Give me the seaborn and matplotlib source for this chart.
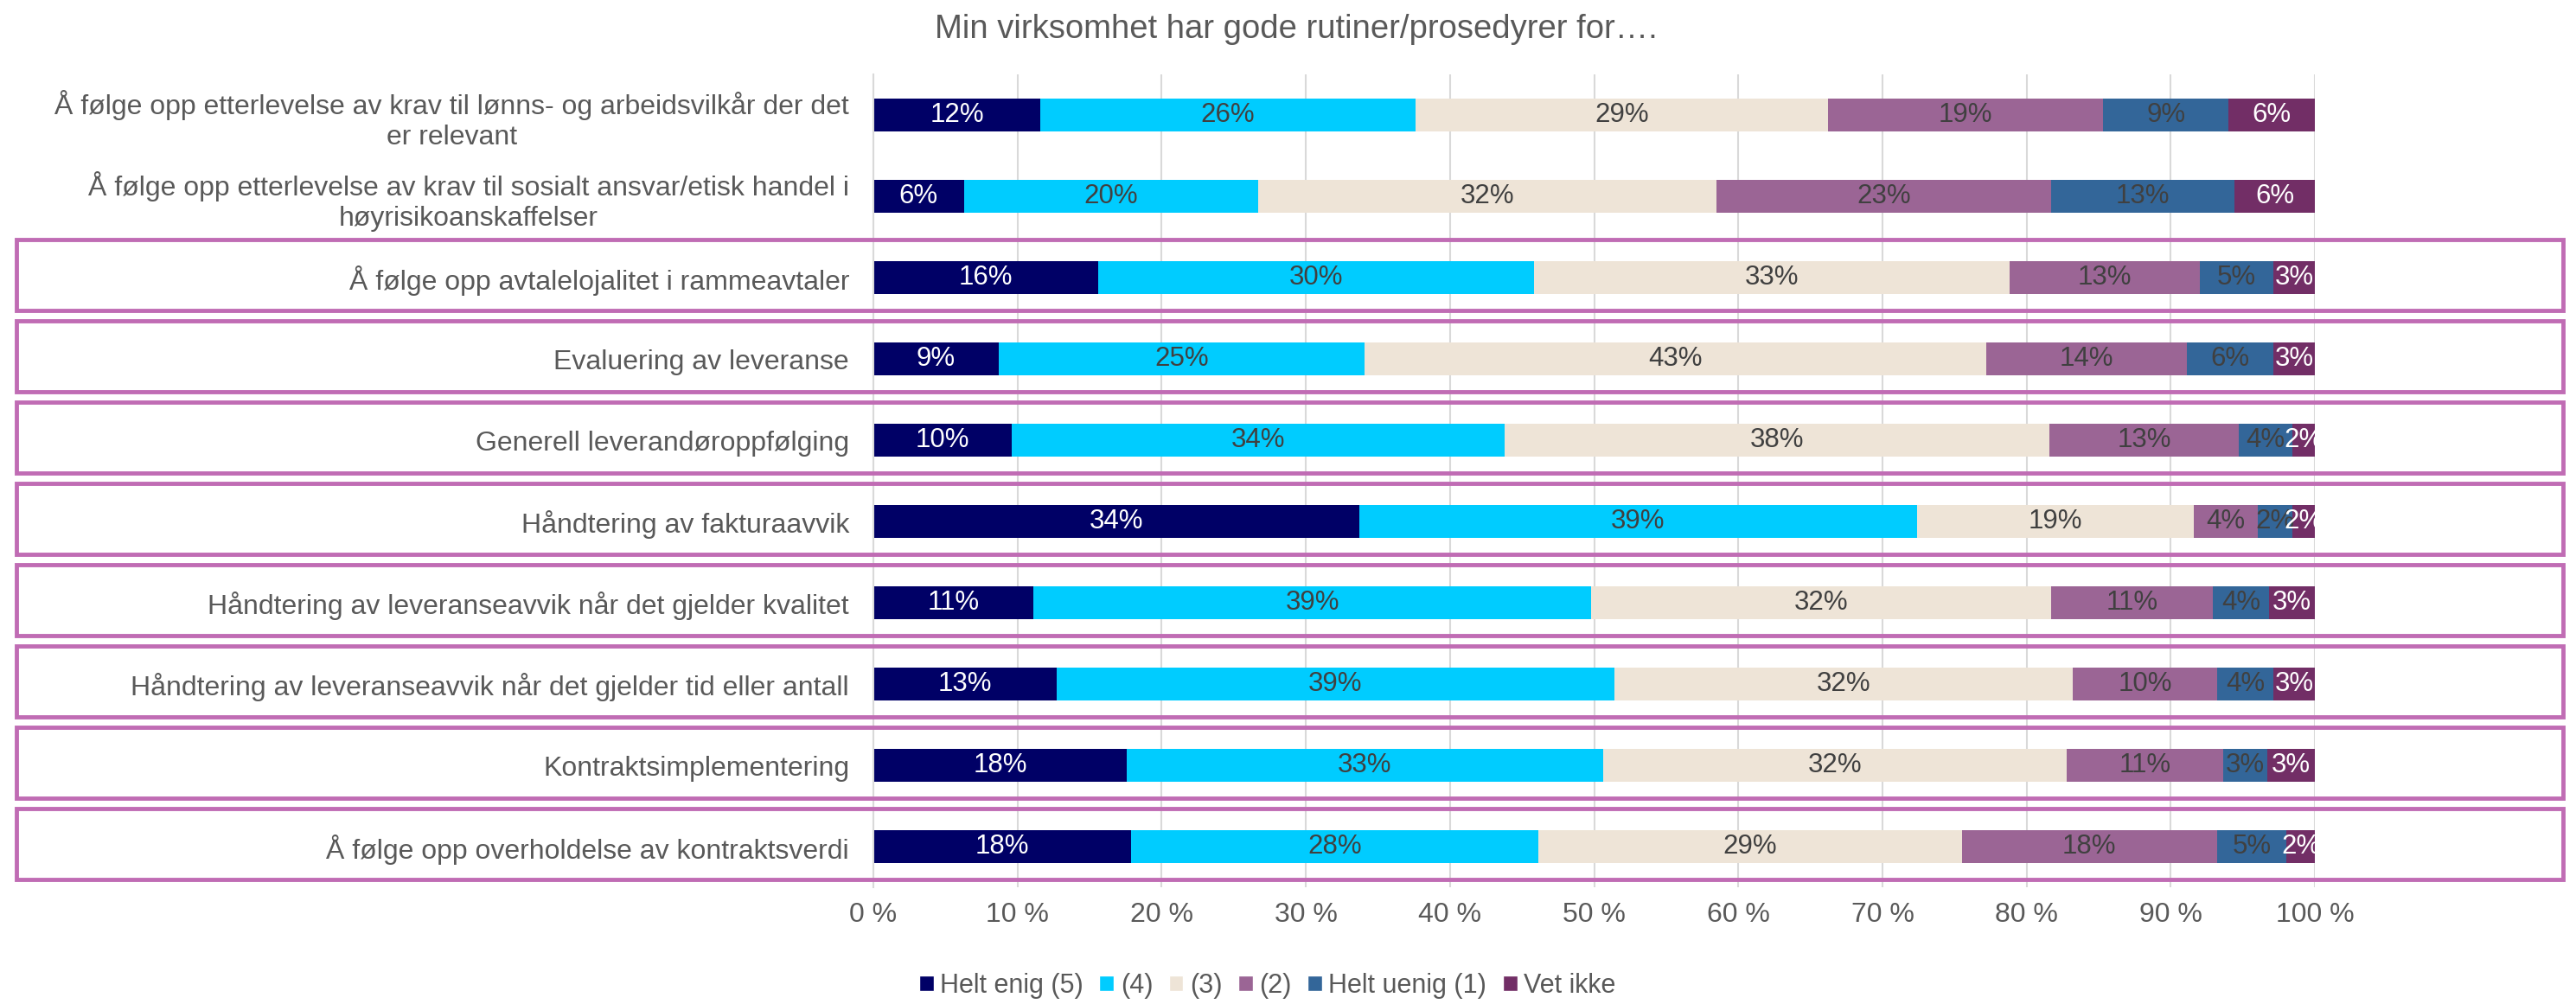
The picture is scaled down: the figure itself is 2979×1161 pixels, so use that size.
import numpy as np
import pandas as pd
import seaborn as sns
import matplotlib.pyplot as plt
from matplotlib.patches import Rectangle, Patch
from matplotlib.transforms import blended_transform_factory

# categories top to bottom
categories = [
    "Å følge opp etterlevelse av krav til lønns- og arbeidsvilkår der det\ner relevant",
    "Å følge opp etterlevelse av krav til sosialt ansvar/etisk handel i\nhøyrisikoanskaffelser",
    "Å følge opp avtalelojalitet i rammeavtaler",
    "Evaluering av leveranse",
    "Generell leverandøroppfølging",
    "Håndtering av fakturaavvik",
    "Håndtering av leveranseavvik når det gjelder kvalitet",
    "Håndtering av leveranseavvik når det gjelder tid eller antall",
    "Kontraktsimplementering",
    "Å følge opp overholdelse av kontraktsverdi",
]

series_names = ["Helt enig (5)", "(4)", "(3)", "(2)", "Helt uenig (1)", "Vet ikke"]

helt_enig = [11.6, 6.3, 15.6, 8.7, 9.6, 33.7, 11.1, 12.7, 17.6, 17.9]
fire = [26.0, 20.4, 30.2, 25.4, 34.2, 38.7, 38.7, 38.7, 33.0, 28.2]
tre = [28.6, 31.8, 33.0, 43.1, 37.8, 19.2, 31.9, 31.8, 32.2, 29.4]
to = [19.1, 23.2, 13.2, 13.9, 13.1, 4.4, 11.2, 10.0, 10.8, 17.7]
helt_uenig = [8.7, 12.7, 5.1, 6.0, 3.7, 2.4, 3.9, 3.9, 3.1, 4.8]
vet_ikke = [6.0, 5.6, 2.9, 2.9, 1.6, 1.6, 3.2, 2.9, 3.3, 2.0]

xticks = list(range(0, 101, 10))
xtick_labels = [f"{t} %" for t in xticks]

colors = ["#000066", "#00CCFF", "#EEE4D7", "#9B6595", "#336699", "#722E66"]
text_colors = ["white", "#404040", "#404040", "#404040", "#404040", "white"]
grey = "#595959"

df = pd.DataFrame(
    dict(zip(series_names, [helt_enig, fire, tre, to, helt_uenig, vet_ikke])),
    index=categories,
)
cum = df.cumsum(axis=1)

sns.set_theme(style="white")
plt.rcParams["font.family"] = ["Liberation Sans", "DejaVu Sans"]

fig = plt.figure(figsize=(29.79, 11.61), dpi=100)
ax = fig.add_axes([0.339, 0.116, 0.5597, 0.81])

# stacked bars: draw cumulative totals from the right-most series backwards
for name, col in reversed(list(zip(series_names, colors))):
    sns.barplot(x=cum[name].values, y=categories, orient="h", color=col,
                width=0.4, saturation=1, errorbar=None, linewidth=0, ax=ax)

# segment labels
for j, name in enumerate(series_names):
    for i, cat in enumerate(categories):
        v = df.loc[cat, name]
        center = cum.loc[cat, name] - v / 2
        ax.text(center, i, f"{v:.0f}%", ha="center", va="center",
                fontsize=22.5, color=text_colors[j])

ax.set_xlim(0, 100)
ax.set_xticks(xticks)
ax.set_xticklabels(xtick_labels, fontsize=23, color=grey)
ax.set_yticks(range(len(categories)))
ax.set_yticklabels(categories, fontsize=23, color=grey)
for lbl in ax.get_yticklabels():
    lbl.set_multialignment("center")
ax.tick_params(axis="y", length=0, pad=20)
ax.tick_params(axis="x", length=0, pad=12)
ax.set_xlabel("")
ax.set_ylabel("")
ax.xaxis.grid(True, color="#D9D9D9", lw=1.5)
ax.set_axisbelow(True)
for s in ["top", "right", "bottom"]:
    ax.spines[s].set_visible(False)
ax.spines["left"].set_color("#D9D9D9")
ax.spines["left"].set_linewidth(1.5)

# highlight boxes around rows 3-10
trans = blended_transform_factory(fig.transFigure, ax.transData)
for k in range(2, len(categories)):
    fig.add_artist(Rectangle((0.0064, k - 0.47), 0.9886, 0.87, transform=trans,
                             fill=False, ec="#C06CB4", lw=3.5, clip_on=False))

fig.text(0.503, 0.971, "Min virksomhet har gode rutiner/prosedyrer for….",
         ha="center", va="center", fontsize=27.5, color=grey)

handles = [Patch(facecolor=c) for c in colors]
fig.legend(handles, series_names, loc="center", bbox_to_anchor=(0.492, 0.018),
           ncol=6, frameon=False, fontsize=22, handlelength=0.55, handleheight=0.55,
           handletextpad=0.25, columnspacing=0.6, labelcolor=grey)

fig.savefig("out.png", dpi=100)
